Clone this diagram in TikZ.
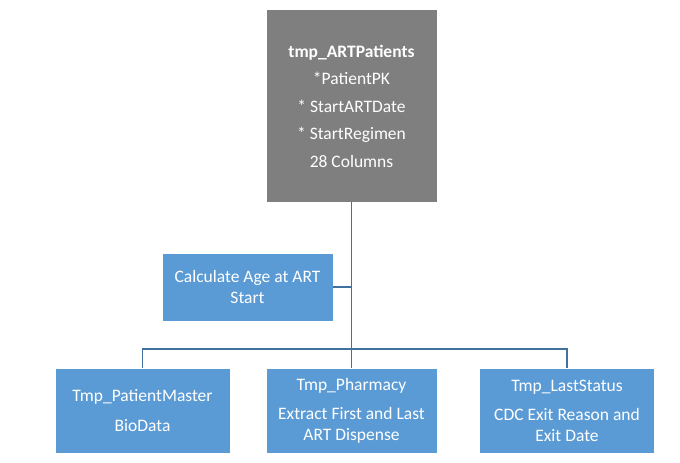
\documentclass[tikz,border=0pt]{standalone}
\usepackage{fontspec}
\setmainfont{Carlito}
\usetikzlibrary{positioning}
\definecolor{boxblue}{HTML}{5B9BD5}
\definecolor{boxgray}{HTML}{7F7F7F}
\definecolor{linkblue}{HTML}{41719C}
\begin{document}
\begin{tikzpicture}[x=1pt,y=-1pt,-,auto,
    thick,main node/.style={rectangle,fill=boxgray,text=white,align=center,inner sep=0pt,minimum width=170pt,minimum height=192pt,font=\fontsize{17.5}{27.5}\selectfont},
    step node/.style={rectangle,fill=boxblue,draw=white,line width=0.6pt,text=white,align=center,inner sep=0pt,minimum height=85pt,font=\fontsize{17.5}{20.5}\selectfont},
    link/.style={draw=linkblue,line width=1.4pt}]
   \useasboundingbox (0,0) rectangle (680,463);
   \begin{scope}
     \node[main node] (art) at (351.5,106) {\textbf{tmp\_ARTPatients}\\*PatientPK\\* StartARTDate\\* StartRegimen\\28 Columns};
     \node[step node,minimum width=171pt,minimum height=68pt] (age) at (247.5,287) {Calculate Age at ART\\Start};
      \node[step node,minimum width=175pt] (master) at (142.5,410.5) {Tmp\_PatientMaster\\[9pt]BioData};
      \node[step node,minimum width=171pt] (pharm) at (351.5,410.5) {Tmp\_Pharmacy\\[9pt]Extract First and Last\\ART Dispense};
      \node[step node,minimum width=175pt] (status) at (567,410.5) {Tmp\_LastStatus\\[9pt]CDC Exit Reason and\\Exit Date};
      \coordinate (bus) at (351.5,349);
       \path[link] (art.south) edge (pharm.north);
       \path[link] (age.east) edge (age.east -| art.south);
       \draw[link] (master.north) |- (bus) -| (status.north);
    \end{scope}
  \end{tikzpicture}
\end{document}
